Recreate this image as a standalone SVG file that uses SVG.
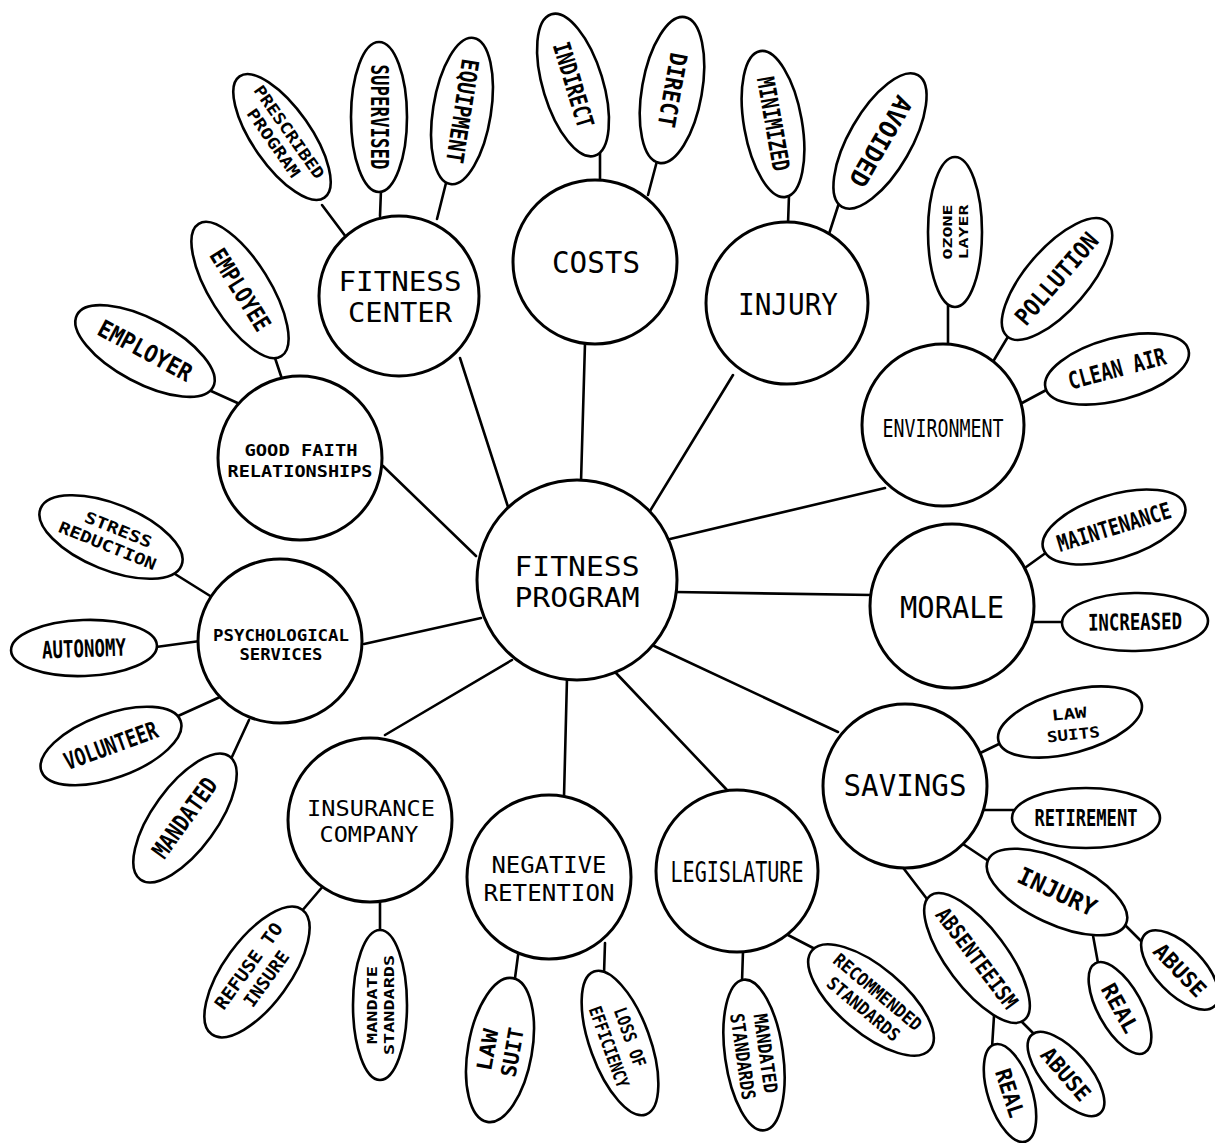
<svg xmlns="http://www.w3.org/2000/svg" width="1215" height="1143" viewBox="0 0 1215 1143">
<style>
.bg{fill:#fff}
.n circle{fill:#fff;stroke:#000;stroke-width:3}
.l ellipse{fill:#fff;stroke:#000;stroke-width:2.6}
.c line{stroke:#000;stroke-width:2.6;stroke-linecap:round}
.t{font-family:"DejaVu Sans Mono","Liberation Mono",monospace;text-anchor:middle;fill:#000}
.lt{font-family:"DejaVu Sans Mono","Liberation Mono",monospace;font-weight:bold;text-anchor:middle;fill:#000}
</style>
<rect class="bg" x="0" y="0" width="1215" height="1143"/>
<g id="connectors" class="c">
<line x1="460" y1="358" x2="509" y2="510"/>
<line x1="585" y1="343" x2="581" y2="482"/>
<line x1="733" y1="375" x2="650" y2="511"/>
<line x1="885" y1="488" x2="670" y2="539"/>
<line x1="872" y1="595" x2="675" y2="592"/>
<line x1="838" y1="732" x2="652" y2="645"/>
<line x1="727" y1="790" x2="616" y2="673"/>
<line x1="564" y1="797" x2="567" y2="678"/>
<line x1="385" y1="735" x2="512" y2="660"/>
<line x1="364" y1="644" x2="481" y2="618"/>
<line x1="383" y1="466" x2="476" y2="556"/>
<line x1="322" y1="205" x2="346" y2="237"/>
<line x1="381" y1="190" x2="380" y2="216"/>
<line x1="446" y1="183" x2="437" y2="219"/>
<line x1="600" y1="153" x2="600" y2="182"/>
<line x1="657" y1="161" x2="648" y2="195"/>
<line x1="789" y1="195" x2="788" y2="224"/>
<line x1="839" y1="203" x2="829" y2="234"/>
<line x1="948" y1="305" x2="948" y2="346"/>
<line x1="1009" y1="335" x2="994" y2="360"/>
<line x1="1050" y1="388" x2="1022" y2="403"/>
<line x1="1047" y1="552" x2="1022" y2="570"/>
<line x1="1031" y1="622" x2="1064" y2="622"/>
<line x1="1001" y1="743" x2="974" y2="756"/>
<line x1="983" y1="810" x2="1014" y2="810"/>
<line x1="960" y1="842" x2="990" y2="862"/>
<line x1="901" y1="865" x2="927" y2="899"/>
<line x1="994" y1="1016" x2="992" y2="1048"/>
<line x1="1019" y1="1019" x2="1036" y2="1036"/>
<line x1="1092" y1="930" x2="1098" y2="963"/>
<line x1="1125" y1="925" x2="1142" y2="942"/>
<line x1="743" y1="951" x2="742" y2="982"/>
<line x1="788" y1="935" x2="817" y2="950"/>
<line x1="519" y1="948" x2="515" y2="978"/>
<line x1="605" y1="943" x2="604" y2="974"/>
<line x1="324" y1="885" x2="301" y2="912"/>
<line x1="380" y1="896" x2="380" y2="932"/>
<line x1="175" y1="574" x2="215" y2="599"/>
<line x1="156" y1="647" x2="200" y2="641"/>
<line x1="178" y1="716" x2="220" y2="697"/>
<line x1="249" y1="720" x2="231" y2="759"/>
<line x1="211" y1="391" x2="242" y2="405"/>
<line x1="274" y1="355" x2="283" y2="382"/>
</g>
<g id="fitness-program" class="n"><circle cx="577" cy="580" r="100"/><text class="t" x="577" y="576" font-size="26" textLength="125" lengthAdjust="spacingAndGlyphs">FITNESS</text><text class="t" x="577" y="607" font-size="26" textLength="125" lengthAdjust="spacingAndGlyphs">PROGRAM</text></g>
<g id="fitness-center" class="n"><circle cx="399" cy="296" r="80"/><text class="t" x="400" y="291" font-size="26" textLength="123" lengthAdjust="spacingAndGlyphs">FITNESS</text><text class="t" x="400" y="322" font-size="26" textLength="104" lengthAdjust="spacingAndGlyphs">CENTER</text></g>
<g id="costs" class="n"><circle cx="595" cy="262" r="82"/><text class="t" x="596" y="273" font-size="30" textLength="88" lengthAdjust="spacingAndGlyphs">COSTS</text></g>
<g id="injury" class="n"><circle cx="787" cy="303" r="81"/><text class="t" x="788" y="315" font-size="30" textLength="100" lengthAdjust="spacingAndGlyphs">INJURY</text></g>
<g id="environment" class="n"><circle cx="943" cy="425" r="81"/><text class="t" x="943" y="437" font-size="25" textLength="121" lengthAdjust="spacingAndGlyphs">ENVIRONMENT</text></g>
<g id="morale" class="n"><circle cx="952" cy="606" r="82"/><text class="t" x="952" y="618" font-size="30" textLength="104" lengthAdjust="spacingAndGlyphs">MORALE</text></g>
<g id="savings" class="n"><circle cx="905" cy="786" r="82"/><text class="t" x="905" y="796" font-size="30" textLength="123" lengthAdjust="spacingAndGlyphs">SAVINGS</text></g>
<g id="legislature" class="n"><circle cx="737" cy="871" r="81"/><text class="t" x="737" y="882" font-size="29" textLength="133" lengthAdjust="spacingAndGlyphs">LEGISLATURE</text></g>
<g id="negative-retention" class="n"><circle cx="549" cy="877" r="82"/><text class="t" x="549" y="873" font-size="23" textLength="115" lengthAdjust="spacingAndGlyphs">NEGATIVE</text><text class="t" x="549" y="901" font-size="23" textLength="131" lengthAdjust="spacingAndGlyphs">RETENTION</text></g>
<g id="insurance-company" class="n"><circle cx="370" cy="820" r="82"/><text class="t" x="371" y="816" font-size="22" textLength="128" lengthAdjust="spacingAndGlyphs">INSURANCE</text><text class="t" x="369" y="842" font-size="22" textLength="99" lengthAdjust="spacingAndGlyphs">COMPANY</text></g>
<g id="psychological-services" class="n"><circle cx="280" cy="641" r="82"/><text class="t" x="281" y="641" font-size="15" font-weight="bold" textLength="136" lengthAdjust="spacingAndGlyphs">PSYCHOLOGICAL</text><text class="t" x="281" y="660" font-size="15" font-weight="bold" textLength="83" lengthAdjust="spacingAndGlyphs">SERVICES</text></g>
<g id="good-faith-relationships" class="n"><circle cx="300" cy="458" r="82"/><text class="t" x="301" y="456" font-size="15" font-weight="bold" textLength="113" lengthAdjust="spacingAndGlyphs">GOOD FAITH</text><text class="t" x="300" y="477" font-size="15" font-weight="bold" textLength="145" lengthAdjust="spacingAndGlyphs">RELATIONSHIPS</text></g>

<g id="prescribed-program" class="l" transform="translate(282,137) rotate(55)"><ellipse rx="74" ry="29"/><text class="lt" x="0" y="-3" font-size="16" textLength="110" lengthAdjust="spacingAndGlyphs">PRESCRIBED</text><text class="lt" x="0" y="16" font-size="16" textLength="80" lengthAdjust="spacingAndGlyphs">PROGRAM</text></g>
<g id="supervised" class="l" transform="translate(379,117) rotate(90)"><ellipse rx="75" ry="28"/><text class="lt" x="0" y="8" font-size="24" textLength="105" lengthAdjust="spacingAndGlyphs">SUPERVISED</text></g>
<g id="equipment" class="l" transform="translate(462,111) rotate(99)"><ellipse rx="74" ry="29"/><text class="lt" x="0" y="8" font-size="24" textLength="105" lengthAdjust="spacingAndGlyphs">EQUIPMENT</text></g>
<g id="indirect" class="l" transform="translate(573,85) rotate(73)"><ellipse rx="74" ry="30"/><text class="lt" x="0" y="8" font-size="24" textLength="88" lengthAdjust="spacingAndGlyphs">INDIRECT</text></g>
<g id="direct" class="l" transform="translate(672,90) rotate(100)"><ellipse rx="74" ry="30"/><text class="lt" x="0" y="8" font-size="24" textLength="75" lengthAdjust="spacingAndGlyphs">DIRECT</text></g>
<g id="minimized" class="l" transform="translate(773,124) rotate(80)"><ellipse rx="74" ry="29"/><text class="lt" x="0" y="8" font-size="24" textLength="95" lengthAdjust="spacingAndGlyphs">MINIMIZED</text></g>
<g id="avoided" class="l" transform="translate(880,141) rotate(120)"><ellipse rx="76" ry="31"/><text class="lt" x="0" y="8" font-size="25" textLength="100" lengthAdjust="spacingAndGlyphs">AVOIDED</text></g>
<g id="ozone-layer" class="l" transform="translate(955,232) rotate(-90)"><ellipse rx="75" ry="27"/><text class="lt" x="0" y="-3" font-size="13" textLength="55" lengthAdjust="spacingAndGlyphs">OZONE</text><text class="lt" x="0" y="13" font-size="13" textLength="55" lengthAdjust="spacingAndGlyphs">LAYER</text></g>
<g id="pollution" class="l" transform="translate(1057,279) rotate(-49)"><ellipse rx="76" ry="31"/><text class="lt" x="0" y="8" font-size="24" textLength="113" lengthAdjust="spacingAndGlyphs">POLLUTION</text></g>
<g id="clean-air" class="l" transform="translate(1117,369) rotate(-15)"><ellipse rx="74" ry="31"/><text class="lt" x="0" y="8" font-size="24" textLength="100" lengthAdjust="spacingAndGlyphs">CLEAN AIR</text></g>
<g id="maintenance" class="l" transform="translate(1114,527) rotate(-17)"><ellipse rx="74" ry="32"/><text class="lt" x="0" y="8" font-size="23" textLength="118" lengthAdjust="spacingAndGlyphs">MAINTENANCE</text></g>
<g id="increased" class="l" transform="translate(1135,622) rotate(-1)"><ellipse rx="73" ry="29"/><text class="lt" x="0" y="8" font-size="23" textLength="94" lengthAdjust="spacingAndGlyphs">INCREASED</text></g>
<g id="law-suits" class="l" transform="translate(1070,722) rotate(-15)"><ellipse rx="74" ry="31"/><text class="lt" x="0" y="-3" font-size="15" textLength="35" lengthAdjust="spacingAndGlyphs" transform="rotate(9)">LAW</text><text class="lt" x="2" y="18" font-size="15" textLength="53" lengthAdjust="spacingAndGlyphs" transform="rotate(9)">SUITS</text></g>
<g id="retirement" class="l" transform="translate(1086,818)"><ellipse rx="74" ry="30"/><text class="lt" x="0" y="8" font-size="23" textLength="103" lengthAdjust="spacingAndGlyphs">RETIREMENT</text></g>
<g id="injury-savings" class="l" transform="translate(1057,892) rotate(25)"><ellipse rx="76" ry="32"/><text class="lt" x="0" y="8" font-size="24" textLength="84" lengthAdjust="spacingAndGlyphs">INJURY</text></g>
<g id="absenteeism" class="l" transform="translate(977,958) rotate(53)"><ellipse rx="78" ry="30"/><text class="lt" x="0" y="8" font-size="22" textLength="120" lengthAdjust="spacingAndGlyphs">ABSENTEEISM</text></g>
<g id="real-absenteeism" class="l" transform="translate(1010,1093) rotate(72)"><ellipse rx="51" ry="22"/><text class="lt" x="0" y="8" font-size="22" textLength="50" lengthAdjust="spacingAndGlyphs">REAL</text></g>
<g id="abuse-absenteeism" class="l" transform="translate(1066,1074) rotate(49)"><ellipse rx="52" ry="23"/><text class="lt" x="0" y="8" font-size="22" textLength="63" lengthAdjust="spacingAndGlyphs">ABUSE</text></g>
<g id="real-injury" class="l" transform="translate(1120,1008) rotate(61)"><ellipse rx="51" ry="22"/><text class="lt" x="0" y="8" font-size="22" textLength="53" lengthAdjust="spacingAndGlyphs">REAL</text></g>
<g id="abuse-injury" class="l" transform="translate(1180,970) rotate(46)"><ellipse rx="50" ry="24"/><text class="lt" x="0" y="8" font-size="22" textLength="65" lengthAdjust="spacingAndGlyphs">ABUSE</text></g>
<g id="mandated-standards" class="l" transform="translate(754,1055) rotate(82)"><ellipse rx="76" ry="29"/><text class="lt" x="0" y="-5" font-size="19" textLength="80" lengthAdjust="spacingAndGlyphs">MANDATED</text><text class="lt" x="0" y="18" font-size="19" textLength="87" lengthAdjust="spacingAndGlyphs">STANDARDS</text></g>
<g id="recommended-standards" class="l" transform="translate(871,1000) rotate(40)"><ellipse rx="77" ry="33"/><text class="lt" x="0" y="-4" font-size="18" textLength="109" lengthAdjust="spacingAndGlyphs">RECOMMENDED</text><text class="lt" x="0" y="18" font-size="18" textLength="89" lengthAdjust="spacingAndGlyphs">STANDARDS</text></g>
<g id="law-suit" class="l" transform="translate(500,1050) rotate(-80)"><ellipse rx="73" ry="32"/><text class="lt" x="-2" y="-5" font-size="21" textLength="42" lengthAdjust="spacingAndGlyphs">LAW</text><text class="lt" x="0" y="20" font-size="21" textLength="50" lengthAdjust="spacingAndGlyphs">SUIT</text></g>
<g id="loss-of-efficiency" class="l" transform="translate(620,1043) rotate(70)"><ellipse rx="76" ry="30"/><text class="lt" x="-2" y="-5" font-size="18" textLength="62" lengthAdjust="spacingAndGlyphs">LOSS OF</text><text class="lt" x="0" y="18" font-size="18" textLength="85" lengthAdjust="spacingAndGlyphs">EFFICIENCY</text></g>
<g id="refuse-to-insure" class="l" transform="translate(257,972) rotate(-54)"><ellipse rx="77" ry="33"/><text class="lt" x="0" y="-4" font-size="18" textLength="102" lengthAdjust="spacingAndGlyphs">REFUSE TO</text><text class="lt" x="0" y="18" font-size="18" textLength="64" lengthAdjust="spacingAndGlyphs">INSURE</text></g>
<g id="mandate-standards" class="l" transform="translate(380,1005) rotate(-90)"><ellipse rx="75" ry="27"/><text class="lt" x="0" y="-3" font-size="14" textLength="78" lengthAdjust="spacingAndGlyphs">MANDATE</text><text class="lt" x="0" y="14" font-size="14" textLength="100" lengthAdjust="spacingAndGlyphs">STANDARDS</text></g>
<g id="mandated-psych" class="l" transform="translate(185,818) rotate(-54)"><ellipse rx="76" ry="32"/><text class="lt" x="0" y="8" font-size="24" textLength="93" lengthAdjust="spacingAndGlyphs">MANDATED</text></g>
<g id="volunteer" class="l" transform="translate(111,746) rotate(-20)"><ellipse rx="74" ry="32"/><text class="lt" x="0" y="8" font-size="24" textLength="98" lengthAdjust="spacingAndGlyphs">VOLUNTEER</text></g>
<g id="autonomy" class="l" transform="translate(84,648) rotate(-2)"><ellipse rx="73" ry="28"/><text class="lt" x="0" y="9" font-size="24" textLength="84" lengthAdjust="spacingAndGlyphs">AUTONOMY</text></g>
<g id="stress-reduction" class="l" transform="translate(111,537) rotate(22)"><ellipse rx="76" ry="33"/><text class="lt" x="4" y="-4" font-size="16" textLength="71" lengthAdjust="spacingAndGlyphs">STRESS</text><text class="lt" x="0" y="15" font-size="16" textLength="104" lengthAdjust="spacingAndGlyphs">REDUCTION</text></g>
<g id="employer" class="l" transform="translate(145,351) rotate(28)"><ellipse rx="77" ry="32"/><text class="lt" x="0" y="8" font-size="24" textLength="103" lengthAdjust="spacingAndGlyphs">EMPLOYER</text></g>
<g id="employee" class="l" transform="translate(240,290) rotate(58)"><ellipse rx="78" ry="30"/><text class="lt" x="0" y="8" font-size="24" textLength="92" lengthAdjust="spacingAndGlyphs">EMPLOYEE</text></g>
</svg>
